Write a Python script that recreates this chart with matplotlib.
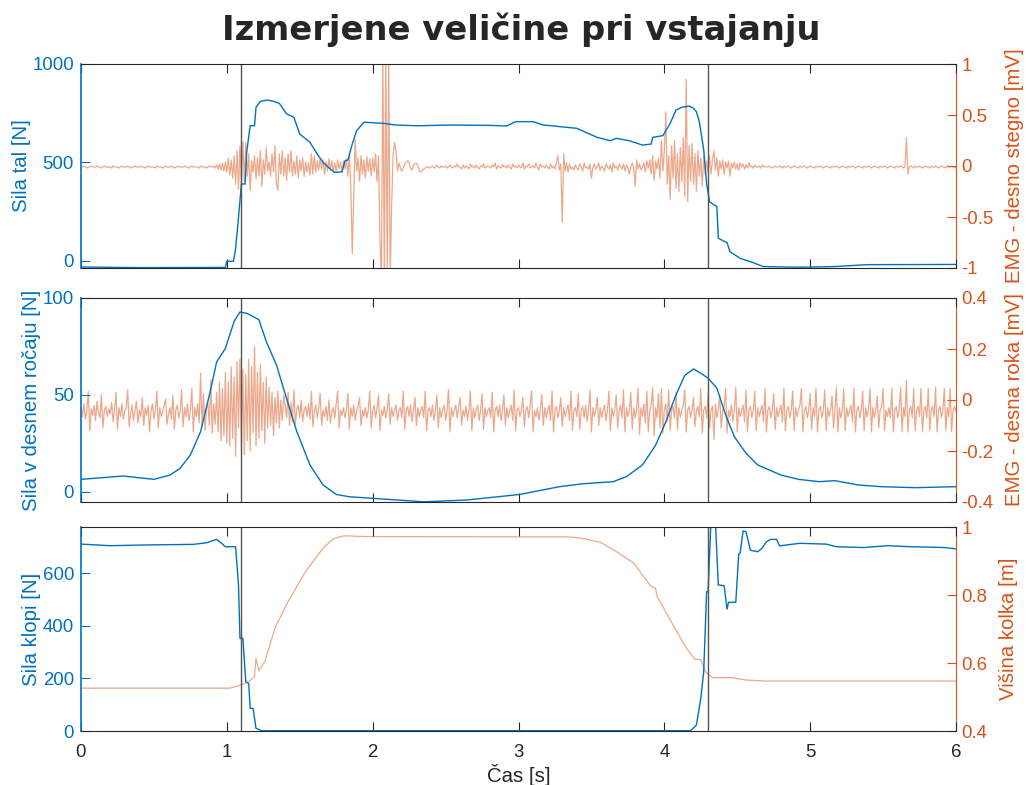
import numpy as np
import matplotlib
matplotlib.use('Agg')
import matplotlib.pyplot as plt

plt.rcParams['font.family'] = ['Liberation Sans', 'DejaVu Sans']
plt.rcParams['axes.unicode_minus'] = False

# ---------------- data ----------------
title = "Izmerjene veličine pri vstajanju"
xlabel = "Čas [s]"
x_ticks = [0, 1, 2, 3, 4, 5, 6]
event_times = [1.1, 4.3]

# Sila tal [N]
t_tal = [0.00, 0.40, 0.99, 1.00, 1.045, 1.06, 1.08, 1.10, 1.125, 1.136, 1.16, 1.19, 1.20, 1.23, 1.28,
         1.32, 1.36, 1.41, 1.46, 1.50, 1.57, 1.62, 1.66, 1.71, 1.74, 1.79, 1.81, 1.83, 1.86, 1.89,
         1.94, 2.08, 2.15, 2.31, 2.54, 2.80, 2.92, 2.98, 3.10, 3.17, 3.40, 3.54, 3.63, 3.67, 3.76,
         3.85, 3.91, 3.92, 3.99, 4.04, 4.08, 4.12, 4.17, 4.20, 4.22, 4.24, 4.27, 4.29, 4.31, 4.36,
         4.37, 4.43, 4.45, 4.52, 4.61, 4.68, 4.93, 5.16, 5.39, 6.00]
f_tal = [-32, -35, -34, -3, -3, 59, 220, 390, 390, 551, 686, 686, 780, 810, 817,
         810, 800, 746, 729, 644, 602, 542, 500, 466, 449, 452, 508, 512, 593, 661,
         704, 698, 690, 686, 690, 688, 685, 707, 707, 690, 673, 627, 610, 622, 610,
         588, 593, 627, 636, 698, 766, 780, 786, 775, 757, 707, 563, 393, 300, 275,
         114, 92, 46, 12, -10, -30, -33, -30, -20, -19]

# EMG - desno stegno, sampled every 0.01 s, in units of 0.01 mV
emg_dt = 0.01
emg_stegno = [
    -1, -1, 0, -1, -2, -1, -1, 0, -1, -1,
    -1, 0, -1, -1, -2, -1, 0, -1, -1, -1,
    -1, -2, 0, -1, -1, -1, -2, -1, 0, -1,
    -1, -1, 0, -1, -2, -1, -1, 0, -1, -1,
    -1, 0, -1, -1, -2, -1, 0, -1, -1, -1,
    -1, -2, 0, -1, -1, -1, -2, -1, 0, -1,
    -1, -1, 0, -1, -2, -1, -1, 0, -1, -1,
    -1, 0, -1, -1, -2, -1, 0, -1, -1, -1,
    -1, -2, 0, -1, -1, -1, -2, -1, 0, -1,
    -1, 0, -2, 1, -3, 2, -4, 3, -5, 4,
    -6, 8, -9, 6, -12, 10, -18, 15, -23, 20,
    -20, 24, -15, 23, -10, 12, -24, 5, -6, 10,
    -13, 8, -10, 15, -20, 6, -8, 18, -5, 4,
    -10, 12, -6, 20, -17, -24, 12, -8, 15, -10,
    8, -14, 12, -6, 15, -10, 5, -8, 10, -12,
    6, -5, 8, -10, 4, -6, 3, -9, 12, -8,
    10, -6, 5, -4, 7, -3, 6, -8, 4, -5,
    7, -4, 5, -6, 3, -5, 6, -3, 4, -6,
    5, -3, 7, -10, 12, -20, -86, -30, 26, -5,
    8, -15, 10, -8, 6, -12, 9, -5, 7, -10,
    8, -6, 12, -15, 10, -72, -110, 110, -110, 110,
    -110, 110, -110, -40, 10, 23, 15, -5, 3, -2,
    -5, -2, 2, 4, 5, 3, -2, -4, 1, 2,
    3, 0, -5, -6, -4, -3, -2, -1, -1, -2,
    -1, 0, -2, -1, 1, -1, -2, 0, -1, -1,
    0, -2, -1, 1, -1, -2, 0, -1, 2, -1,
    -1, -3, 1, -2, 0, -1, -3, 2, -1, 0,
    -2, 1, -1, -3, 0, -1, 2, -2, -1, 0,
    -1, -2, 1, -1, 3, -3, 0, -1, -2, 1,
    -1, 0, -2, 1, -1, -3, 2, -1, 0, -2,
    1, -1, -2, 3, -3, 0, -1, 2, -2, -1,
    0, -2, 3, -1, -4, 2, -1, 0, -2, 1,
    -1, -3, 2, -2, 0, -3, 4, 10, -4, 2,
    -55, 12, -5, 3, -6, 2, -3, -1, -4, 1,
    -2, -4, 2, -1, -5, 3, -2, -1, -3, 2,
    -12, -1, 2, -3, -1, 3, -4, 0, -2, -5,
    2, -1, -3, 1, -6, 3, -2, 0, -4, 2,
    -1, -3, 2, -5, 1, -2, -8, -1, 3, -2,
    -20, 6, -3, 2, -4, -1, 3, -6, 5, -2,
    6, -8, 10, -14, 5, -3, 8, -12, 25, -5,
    15, 53, -18, 10, -33, 20, -12, 25, -22, 12,
    -25, 18, -15, 28, -30, 85, -35, 20, -15, 22,
    -18, 12, -25, 15, -10, 8, -20, 10, -8, 5,
    -6, 10, -8, 6, 15, -4, 8, -10, 5, -3,
    6, -8, 4, -2, 5, -10, 3, -2, 4, -3,
    2, -4, 3, -1, 2, -3, 1, -2, 3, -1,
    0, -2, 1, -1, -1, 0, -2, 1, -1, 0,
    -1, -1, 0, -1, -2, -1, 0, -1, -1, 0,
    -1, -2, 0, -1, -1, 0, -1, -2, -1, 0,
    -1, -1, -2, 0, -1, -1, 0, -1, -2, -1,
    0, -1, -1, -2, 0, -1, -1, 0, -1, -2,
    -1, 0, -1, -1, -2, 0, -1, -1, 0, -1,
    -2, -1, 0, -1, -1, -2, 0, -1, -1, 0,
    -1, -2, -1, 0, -1, -1, -2, 0, -1, -1,
    0, -1, -2, -1, 0, -1, -1, -2, 0, -1,
    -1, 0, -1, -2, -1, 0, -1, -1, -2, 0,
    -1, -1, 0, -1, -2, -1, 28, -8, -1, 0,
    -1, -2, 0, -1, -1, 0, -1, -2, -1, 0,
    -1, -1, -2, 0, -1, -1, 0, -1, -2, -1,
    0, -1, -1, -2, 0, -1, -1, 0, -1, -2,
    -1]

# Sila v desnem ročaju [N]
t_roc = [0.00, 0.29, 0.50, 0.61, 0.68, 0.75, 0.82, 0.89, 0.93, 0.99, 1.05, 1.09, 1.14, 1.22, 1.27,
         1.34, 1.41, 1.48, 1.57, 1.66, 1.75, 1.84, 2.00, 2.35, 2.64, 3.01, 3.28, 3.44, 3.65, 3.74,
         3.85, 3.94, 4.01, 4.08, 4.14, 4.20, 4.26, 4.30, 4.36, 4.42, 4.48, 4.56, 4.64, 4.80, 4.92,
         5.06, 5.17, 5.33, 5.49, 5.72, 6.00]
f_roc = [6.4, 8.1, 6.4, 8.6, 12.1, 19, 31, 53, 67, 74, 88, 92.8, 92, 88.8, 77.6,
         65.5, 48, 31, 13.8, 3.5, -1.4, -2.6, -3.4, -5.2, -4.3, -1.4, 2.6, 4.1, 5.2, 7.8,
         13.8, 24, 36, 50, 60, 63.4, 60.7, 58.6, 53.5, 39.7, 28.4, 19.9, 13.8, 8.6, 6.4,
         5.2, 5.7, 3.5, 2.6, 2.1, 2.6]

# EMG - desna roka, sampled every 0.01 s, in units of 0.001 mV
emg_roka = [
    -30, -65, -15, -75, -45, 35, -120, -35, -60, -20, -80, -5, -50, -70, 20, -110, -40, -25, -65, -35,
    -55, -10, -85, -40, 30, -115, -30, -65, -15, -75, -45, -30, 40, -105, -55, -20, -80, -40, -5, -90,
    -40, -65, 10, -100, -30, -60, -20, -125, -45, -15, -75, -40, 35, -110, -30, -65, -45, -20, 5, -95,
    -55, -30, -75, 20, -115, -40, -20, -70, -45, 40, -105, -30, -65, -15, -80, -40, 45, -125, -30, -65,
    -15, -90, 105, -100, 25, -120, -35, -10, -100, 80, -130, -15, -95, 30, -125, 70, -160, 45, -140, 110,
    -170, 70, -180, 130, -150, 90, -220, 150, -110, 160, -190, 120, -215, 100, -160, 160, -200, 130, -130, 210,
    -180, 110, -150, 140, -120, 70, -170, 90, -110, 50, -100, 30, -140, 10, -90, 35, -110, 0, -80, 20,
    -20, -70, 30, -100, -10, -85, 40, -95, -35, -20, -70, 0, -85, -40, -25, -65, -15, -75, 35, -105,
    -40, -20, -70, -30, 25, -100, -40, -65, -25, -80, 0, -90, -45, -30, -70, -15, 35, -110, -40, -60,
    -30, -70, -40, 25, -115, -30, -65, -20, -80, -40, -25, 10, -100, -40, -65, -30, -70, -40, 35, -110,
    -40, -20, -70, -30, 20, -120, -40, -60, -25, -70, -40, 25, -95, -30, -65, -40, -20, -80, -40, -30,
    -70, 35, -115, -40, -25, -65, -20, -85, -40, 10, -100, -30, -65, -40, -25, -70, 35, -120, -40, -30,
    -65, -20, -80, -40, 20, -110, -30, -70, -40, -20, -80, -40, 40, -125, -30, -65, -40, -20, -70, -30,
    10, -100, -40, -65, -25, -80, -40, 35, -120, -30, -70, -40, -20, -80, -40, 25, -115, -30, -65, -40,
    -30, -70, 30, -125, -40, -25, -65, -20, -80, -40, 20, -100, -30, -70, -40, -20, -80, 40, -120, -40,
    -30, -65, -40, 10, -105, -40, -25, -70, -20, 35, -125, -40, -65, -30, -80, -40, 20, -100, -30, -70,
    -40, -20, -80, 35, -125, -40, -25, -70, -40, 10, -105, -30, -65, -40, -20, -80, 35, -120, -40, -30,
    -65, 25, -115, -40, -25, -70, -20, -85, -40, 40, -125, -30, -65, -40, 10, -100, -30, -70, -40, -20,
    -80, -40, 35, -120, -30, -65, -40, 20, -110, -40, -20, -70, 40, -125, -30, -65, -40, 30, -115, -30,
    -70, -40, 45, -135, -30, -65, -15, -90, 35, -125, -40, -20, 50, -140, -30, -70, 25, -110, 45, -130,
    -40, -15, -85, 40, -120, -40, -25, -70, 30, -115, -30, -65, -40, -20, 40, -125, -40, -25, -70, -40,
    10, -105, -40, -25, -65, 45, -130, -40, -25, -70, 25, -110, -40, -25, -155, -15, -70, -40, 20, -110,
    -40, -25, 45, -130, -40, -65, -20, -85, -40, 50, -125, -30, -65, -40, -20, -85, 40, -125, -40, -25,
    -70, -40, 35, -120, -30, -65, -40, -20, -85, 45, -125, -40, -25, -70, -40, 25, -115, -30, -65, -40,
    -20, -85, 45, -120, -40, -25, -70, -40, 35, -120, -30, -65, -40, -20, 45, -125, -40, -25, -70, -40,
    25, -115, -30, -65, 45, -125, -40, -25, -70, -40, 40, -120, -30, -65, -40, 15, -110, -40, 50, -125,
    -30, -70, -40, 45, -120, -30, -65, -40, -20, -85, 45, -125, -40, -25, -70, -40, 35, -120, -30, -65,
    -40, 45, -125, -30, -70, -40, 15, -110, -40, -25, 45, -120, -40, -65, -30, -70, 45, -125, -40, -25,
    -70, -40, 50, -125, -30, -65, 78, -125, -40, -25, -70, 45, -120, -40, -25, -65, 45, -125, -40, -25,
    -70, 45, -120, -40, -25, -65, 50, -125, -40, -25, -70, -40, 45, -120, -30, -65, 45, -125, -40, -25,
    -45]

# Sila klopi [N]
t_klop = [0.00, 0.20, 0.47, 0.77, 0.86, 0.93, 0.96, 0.99, 1.06, 1.08, 1.09, 1.11, 1.13, 1.15, 1.16,
          1.18, 1.20, 1.24, 2.50, 4.18, 4.22, 4.25, 4.27, 4.29, 4.30, 4.32, 4.35, 4.37, 4.41, 4.43,
          4.44, 4.49, 4.51, 4.52, 4.54, 4.56, 4.59, 4.64, 4.67, 4.70, 4.73, 4.77, 4.79, 4.84, 4.93,
          5.11, 5.18, 5.37, 5.53, 5.69, 5.92, 6.00]
f_klop = [710, 704, 707, 709, 715, 728, 715, 700, 700, 555, 352, 352, 187, 181, 86,
          86, 10, 1, 1, 1, 23, 124, 225, 529, 529, 800, 800, 555, 552, 463,
          489, 489, 671, 676, 760, 757, 687, 681, 694, 719, 728, 728, 703, 707, 713,
          710, 700, 697, 704, 700, 697, 692]

# Višina kolka [m]
t_kolk = [0.00, 1.02, 1.08, 1.15, 1.19, 1.20, 1.22, 1.26, 1.33, 1.42, 1.54, 1.66, 1.73, 1.80, 1.96,
          3.00, 3.33, 3.42, 3.56, 3.59, 3.67, 3.79, 3.85, 3.91, 3.94, 3.95, 4.06, 4.15, 4.21, 4.25,
          4.28, 4.33, 4.46, 4.56, 4.69, 6.00]
v_kolk = [0.526, 0.526, 0.533, 0.545, 0.560, 0.614, 0.577, 0.604, 0.702, 0.781, 0.869, 0.938, 0.965, 0.974, 0.972,
          0.971, 0.971, 0.968, 0.955, 0.948, 0.928, 0.894, 0.859, 0.825, 0.820, 0.796, 0.712, 0.644, 0.611, 0.610,
          0.575, 0.557, 0.557, 0.550, 0.547, 0.547]

panels = [
    dict(t_l=t_tal, y_l=f_tal, lab_l="Sila tal [N]", lim_l=(-37, 1000), ticks_l=[0, 500, 1000],
         tl_l=["0", "500", "1000"],
         t_r=None, y_r=np.array(emg_stegno) * 0.01, lab_r="EMG - desno stegno [mV]",
         lim_r=(-1, 1), ticks_r=[-1, -0.5, 0, 0.5, 1], tl_r=["-1", "-0.5", "0", "0.5", "1"]),
    dict(t_l=t_roc, y_l=f_roc, lab_l="Sila v desnem ročaju [N]", lim_l=(-5.3, 100), ticks_l=[0, 50, 100],
         tl_l=["0", "50", "100"],
         t_r=None, y_r=np.array(emg_roka) * 0.001, lab_r="EMG - desna roka [mV]",
         lim_r=(-0.4, 0.4), ticks_r=[-0.4, -0.2, 0, 0.2, 0.4], tl_r=["-0.4", "-0.2", "0", "0.2", "0.4"]),
    dict(t_l=t_klop, y_l=f_klop, lab_l="Sila klopi [N]", lim_l=(0, 775), ticks_l=[0, 200, 400, 600],
         tl_l=["0", "200", "400", "600"],
         t_r=t_kolk, y_r=v_kolk, lab_r="Višina kolka [m]",
         lim_r=(0.4, 1.0), ticks_r=[0.4, 0.6, 0.8, 1.0], tl_r=["0.4", "0.6", "0.8", "1"]),
]

# ---------------- drawing ----------------
BLUE = '#0072BD'
ORANGE = '#D95319'
DARK = '#262626'
TICK_FS = 13.4
LAB_FS = 14.7

fig = plt.figure(figsize=(10.28, 7.85), dpi=100)
L = 81 / 1028
W = 875 / 1028
H = 204 / 785
bottoms = [1 - 268 / 785, 1 - 502 / 785, 1 - 731 / 785]

for i, p in enumerate(panels):
    ax = fig.add_axes([L, bottoms[i], W, H])
    axr = ax.twinx()
    ax.set_zorder(axr.get_zorder() + 1)
    ax.patch.set_visible(False)

    t_r = p['t_r'] if p['t_r'] is not None else np.arange(len(p['y_r'])) * emg_dt
    axr.plot(t_r, p['y_r'], color=ORANGE, alpha=0.5, lw=0.9)
    ax.plot(p['t_l'], p['y_l'], color=BLUE, lw=1.0)
    for te in event_times:
        ax.axvline(te, color='#555555', lw=1.0)

    ax.set_xlim(0, 6)
    ax.set_ylim(*p['lim_l'])
    axr.set_ylim(*p['lim_r'])
    ax.set_xticks(x_ticks)
    ax.set_yticks(p['ticks_l'])
    ax.set_yticklabels(p['tl_l'])
    axr.set_yticks(p['ticks_r'])
    axr.set_yticklabels(p['tl_r'])

    ax.tick_params(axis='x', direction='in', top=True, bottom=True, length=6.5, width=0.8,
                   color=DARK, labelcolor=DARK, labelsize=TICK_FS, pad=9.5)
    ax.tick_params(axis='y', direction='in', left=True, right=False, length=6.5, width=0.8,
                   color=BLUE, labelcolor=BLUE, labelsize=TICK_FS, pad=5)
    axr.tick_params(axis='y', direction='in', right=True, length=6.5, width=0.8,
                    color=ORANGE, labelcolor=ORANGE, labelsize=TICK_FS, pad=4)
    axr.tick_params(axis='x', top=False, bottom=False)

    if i < 2:
        ax.tick_params(axis='x', labelbottom=False)
    else:
        ax.set_xlabel(xlabel, fontsize=LAB_FS, color=DARK, labelpad=2)

    ax.set_ylabel(p['lab_l'], fontsize=LAB_FS, color=BLUE, labelpad=1)
    axr.set_ylabel(p['lab_r'], fontsize=LAB_FS, color=ORANGE, labelpad=8)

    for s in ['top', 'bottom']:
        ax.spines[s].set_color(DARK)
        ax.spines[s].set_linewidth(0.8)
    ax.spines['left'].set_color(BLUE)
    ax.spines['left'].set_linewidth(1.2)
    ax.spines['right'].set_visible(False)
    axr.spines['left'].set_visible(False)
    axr.spines['top'].set_visible(False)
    axr.spines['bottom'].set_visible(False)
    axr.spines['right'].set_color(ORANGE)
    axr.spines['right'].set_linewidth(0.8)

fig.text(0.507, 1 - 30 / 785, title, family='DejaVu Sans', fontweight='bold', fontsize=24.3,
         color=DARK, ha='center', va='center')

fig.savefig('out.png', dpi=100)
